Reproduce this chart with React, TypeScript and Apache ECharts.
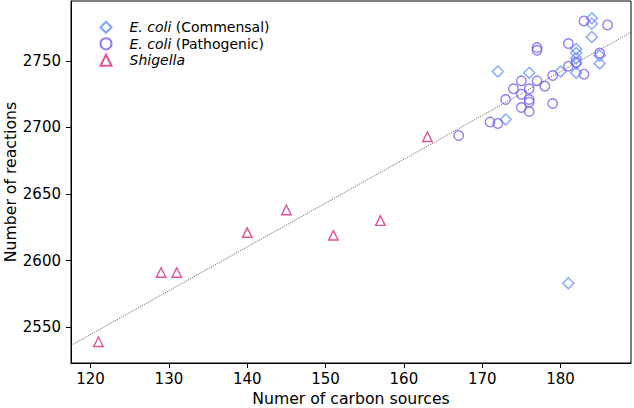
import React, { useEffect, useRef } from "react";
import * as echarts from "echarts";

const commensal: [number, number][] = [
  [184, 2782], [184, 2778], [184, 2768], [172, 2742], [176, 2741],
  [182, 2759], [182, 2756], [182, 2752], [182, 2748], [182, 2741],
  [180, 2742], [185, 2754], [185, 2748], [173, 2706], [181, 2583],
];

const pathogenic: [number, number][] = [
  [183, 2780], [186, 2777], [177, 2760], [177, 2758], [181, 2763],
  [185, 2756], [181, 2746], [182, 2749], [183, 2740], [179, 2739],
  [178, 2731], [177, 2735], [175, 2735], [174, 2729], [175, 2725],
  [176, 2729], [173, 2721], [176, 2721], [176, 2719], [175, 2715],
  [176, 2712], [179, 2718], [171, 2704], [172, 2703], [167, 2694],
];

const shigella: [number, number][] = [
  [121, 2539], [129, 2591], [131, 2591], [140, 2621],
  [145, 2638], [151, 2619], [157, 2630], [163, 2693],
];

const fitLine: [number, number][] = [
  [117.5, 2536.2], [189, 2771.5],
];

const xTicks = [120, 130, 140, 150, 160, 170, 180];
const yTicks = [2550, 2600, 2650, 2700, 2750];

const seriesNames = ["E. coli (Commensal)", "E. coli (Pathogenic)", "Shigella"];
const colors = ["#648FFF", "#785EF0", "#DC267F"];

const FONT = "DejaVu Sans";
const FS = 15;
const LFS = 14;
const LLH = 16.5;

export default function App() {
  const ref = useRef<HTMLDivElement>(null);
  useEffect(() => {
    if (!ref.current) return;
    const chart = echarts.init(ref.current, null, { renderer: "svg" });
    const mk = (name: string, data: [number, number][], symbol: string, color: string, size: number) => ({
      name,
      type: "scatter",
      data,
      symbol,
      symbolSize: size,
      itemStyle: { color: "rgba(0,0,0,0)", borderColor: color, borderWidth: 1.4 },
      z: 3,
    });
    chart.setOption({
      animation: false,
      backgroundColor: "#fff",
      textStyle: { fontFamily: FONT },
      grid: {
        left: 71, right: 3, top: 1, bottom: 45,
        containLabel: false,
        outerBoundsMode: "none",
        show: true, borderColor: "#000", borderWidth: 1,
      },
      graphic: [
        {
          type: "text",
          x: 10,
          y: 182,
          rotation: Math.PI / 2,
          style: {
            text: "Number of reactions",
            fontFamily: FONT,
            fontSize: 15.7,
            fill: "#000",
            align: "center",
            verticalAlign: "middle",
          },
        },
      ],
      legend: {
        orient: "vertical",
        left: 94.5,
        top: 14,
        itemWidth: 11,
        itemHeight: 11,
        itemGap: 0,
        data: seriesNames,
        textStyle: {
          fontFamily: FONT, fontSize: LFS, color: "#000", lineHeight: LLH,
          rich: {
            sp: { width: 13, fontSize: LFS, lineHeight: LLH },
            i: { fontStyle: "italic", fontFamily: FONT, fontSize: LFS, color: "#000", lineHeight: LLH },
            n: { fontFamily: FONT, fontSize: LFS, color: "#000", lineHeight: LLH },
          },
        },
        formatter: (name: string) => {
          if (name.startsWith("E. coli")) {
            return "{sp| }{i|E. coli}{n|" + name.slice(7) + "}";
          }
          return "{sp| }{i|" + name + "}";
        },
      },
      xAxis: {
        type: "value",
        min: 117.5,
        max: 189,
        name: "Numer of carbon sources",
        nameLocation: "middle",
        nameGap: 27,
        nameTextStyle: { fontFamily: FONT, fontSize: 15.7, color: "#000" },
        axisLine: { show: true, onZero: false, lineStyle: { color: "#000", width: 1 } },
        axisTick: { show: true, inside: false, length: 5, customValues: xTicks, lineStyle: { color: "#000" } },
        axisLabel: { customValues: xTicks, fontFamily: FONT, fontSize: FS, color: "#000", margin: 8, formatter: (v: number) => String(v) },
        splitLine: { show: false },
      },
      yAxis: {
        type: "value",
        min: 2523,
        max: 2795,
        axisLine: { show: true, onZero: false, lineStyle: { color: "#000", width: 1 } },
        axisTick: { show: true, inside: false, length: 5, customValues: yTicks, lineStyle: { color: "#000" } },
        axisLabel: { customValues: yTicks, fontFamily: FONT, fontSize: FS, color: "#000", margin: 10, formatter: (v: number) => String(v) },
        splitLine: { show: false },
      },
      series: [
        mk(seriesNames[0], commensal, "diamond", colors[0], 11),
        mk(seriesNames[1], pathogenic, "circle", colors[1], 9.5),
        mk(seriesNames[2], shigella, "triangle", colors[2], 9.5),
        {
          name: "fit",
          type: "line",
          data: fitLine,
          symbol: "none",
          lineStyle: { color: "#333", width: 0.8, type: [1, 1.2] },
          z: 2,
          silent: true,
        },
      ],
    });
    return () => chart.dispose();
  }, []);
  return <div ref={ref} style={{ width: 634, height: 408, position: "absolute", left: 0, top: 0 }} />;
}
